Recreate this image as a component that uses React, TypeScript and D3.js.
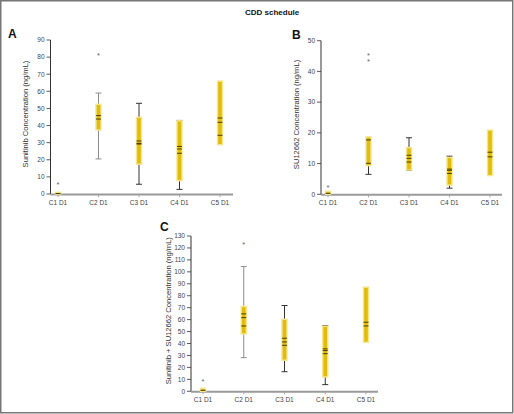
import React from "react";
import * as d3 from "d3";

const categories = ["C1 D1", "C2 D1", "C3 D1", "C4 D1", "C5 D1"];

// Panel A: Sunitinib
const boxLowA = [0, 37.4, 17.4, 7.8, 28.8];
const boxHighA = [1, 52.4, 44.8, 42.8, 66];
const whiskerLowA: (number | null)[] = [null, 20.5, 5.7, 2.7, null];
const whiskerHighA: (number | null)[] = [null, 59, 53, 43, null];
const linesA = [[0.3], [45.8, 43.8], [31, 29.6, 29.2], [27.8, 26.3, 23.8], [44.4, 41.9, 34.3]];
const outliersA = [[6], [81.2], [], [], []];
const ticksA = [0, 10, 20, 30, 40, 50, 60, 70, 80, 90];

// Panel B: SU12662
const boxLowB = [0, 9.3, 7.9, 3, 6.1];
const boxHighB = [1, 18.7, 15.2, 12, 20.9];
const whiskerLowB: (number | null)[] = [null, 6.5, 7.8, 2, null];
const whiskerHighB: (number | null)[] = [null, null, 18.4, 12.4, null];
const linesB = [[0.3], [17.7, 10.1], [12.7, 11.7, 10.5], [8.2, 7.8, 6.8], [13.7, 12.2]];
const outliersB = [[2.5], [45.4, 43.4], [], [], []];
const ticksB = [0, 10, 20, 30, 40, 50];

// Panel C: Sunitinib + SU12662
const boxLowC = [0, 48, 26, 12, 41];
const boxHighC = [2.5, 71, 60.3, 54.5, 87.2];
const whiskerLowC: (number | null)[] = [null, 28.2, 16.4, 5.6, null];
const whiskerHighC: (number | null)[] = [null, 104.4, 71.8, 55, null];
const linesC = [[0.8], [64.8, 61.7, 54.7], [44.4, 41.3, 38.5], [35.5, 34.1, 31.5], [57.8, 54.7]];
const outliersC = [[8.9], [123.7], [], [], []];
const ticksC = [0, 10, 20, 30, 40, 50, 60, 70, 80, 90, 100, 110, 120, 130];

const FONT = "'Liberation Sans', Arial, Helvetica, sans-serif";
const YELLOW = "#e2bc0a";
const HALO = "#f4e68a";
const DARK = "#333";
const GRAY = "#8c8c8c";

type PanelProps = {
  letter: string;
  letterX: number;
  letterY: number;
  yLabel: string;
  yLabelX: number;
  axisX: number;
  axisEnd: number;
  xFirst: number;
  xLast: number;
  yTopPx: number;
  yBottomPx: number;
  yMax: number;
  ticks: number[];
  boxLow: number[];
  boxHigh: number[];
  whiskerLow: (number | null)[];
  whiskerHigh: (number | null)[];
  lines: number[][];
  outliers: number[][];
  grayWhisker: boolean[];
};

function Panel(p: PanelProps) {
  const y = d3.scaleLinear().domain([0, p.yMax]).range([p.yBottomPx, p.yTopPx]);
  const x = d3.scalePoint<string>().domain(categories).range([p.xFirst, p.xLast]);
  const bw = 5;
  const cw = 6;
  return (
    <g>
      <text x={p.letterX} y={p.letterY} fontFamily={FONT} fontWeight="bold" fontSize={12} fill="#111">
        {p.letter}
      </text>
      <text
        transform={`translate(${p.yLabelX},${(p.yTopPx + p.yBottomPx) / 2 - 3}) rotate(-90)`}
        textAnchor="middle"
        fontFamily={FONT}
        fontSize={7.6}
        fill="#333"
      >
        {p.yLabel}
      </text>
      {/* y axis */}
      <line x1={p.axisX} x2={p.axisX} y1={y(p.yMax)} y2={p.yBottomPx} stroke={DARK} strokeWidth={1} />
      {p.ticks.map((t) => (
        <g key={t}>
          <line x1={p.axisX - 4} x2={p.axisX} y1={y(t)} y2={y(t)} stroke={DARK} strokeWidth={0.8} />
          <text
            x={p.axisX - 6}
            y={y(t) + 2.3}
            textAnchor="end"
            fontFamily={FONT}
            fontSize={6.5}
            fill="#444"
          >
            {t}
          </text>
        </g>
      ))}
      {/* x axis */}
      <line x1={p.axisX} x2={p.axisEnd} y1={p.yBottomPx + 0.5} y2={p.yBottomPx + 0.5} stroke="#9a9a9a" strokeWidth={2} />
      {categories.map((c) => (
        <g key={c}>
          <line x1={x(c)!} x2={x(c)!} y1={p.yBottomPx + 1.5} y2={p.yBottomPx + 3} stroke="#888" strokeWidth={0.8} />
          <text
            x={x(c)!}
            y={p.yBottomPx + 11}
            textAnchor="middle"
            fontFamily={FONT}
            fontSize={6.5}
            fill="#444"
          >
            {c}
          </text>
        </g>
      ))}
      {/* boxes */}
      {categories.map((c, i) => {
        const cx = x(c)!;
        const wc = p.grayWhisker[i] ? GRAY : DARK;
        const wl = p.whiskerLow[i];
        const wh = p.whiskerHigh[i];
        return (
          <g key={"b" + c}>
            {wh !== null && (
              <g>
                <line x1={cx} x2={cx} y1={y(wh)} y2={y(p.boxHigh[i])} stroke={wc} strokeWidth={1} />
                <line x1={cx - cw / 2} x2={cx + cw / 2} y1={y(wh)} y2={y(wh)} stroke={wc} strokeWidth={1} />
              </g>
            )}
            {wl !== null && (
              <g>
                <line x1={cx} x2={cx} y1={y(p.boxLow[i])} y2={y(wl)} stroke={wc} strokeWidth={1} />
                <line x1={cx - cw / 2} x2={cx + cw / 2} y1={y(wl)} y2={y(wl)} stroke={wc} strokeWidth={1} />
              </g>
            )}
            <rect
              x={cx - bw / 2}
              y={y(p.boxHigh[i])}
              width={bw}
              height={Math.max(1.5, y(p.boxLow[i]) - y(p.boxHigh[i]))}
              fill={YELLOW}
              stroke={HALO}
              strokeWidth={1.4}
            />
            {p.lines[i].map((v, k) => (
              <line key={k} x1={cx - bw / 2} x2={cx + bw / 2} y1={y(v)} y2={y(v)} stroke="#3a2e00" strokeWidth={0.9} />
            ))}
            {p.outliers[i].map((v, k) => (
              <text
                key={"o" + k}
                x={cx}
                y={y(v) + 3.4}
                textAnchor="middle"
                fontFamily={FONT}
                fontSize={7.5}
                fill="#666"
              >
                *
              </text>
            ))}
          </g>
        );
      })}
    </g>
  );
}

export default function App() {
  return (
    <svg
      width={514}
      height={414}
      style={{ position: "absolute", left: 0, top: 0, background: "#fff" }}
    >
      <rect x={0} y={0} width={514} height={414} fill="#fff" />
      <rect x={0.75} y={0.75} width={512} height={412} fill="none" stroke="#777" strokeWidth={1.5} />
      <text x={245} y={15} fontFamily={FONT} fontWeight="bold" fontSize={8} fill="#111">
        CDD schedule
      </text>
      <Panel
        letter="A"
        letterX={8}
        letterY={38}
        yLabel="Sunitinib Concentration (ng/mL)"
        yLabelX={28}
        axisX={50.5}
        axisEnd={233}
        xFirst={58}
        xLast={220}
        yTopPx={40}
        yBottomPx={194}
        yMax={90}
        ticks={ticksA}
        boxLow={boxLowA}
        boxHigh={boxHighA}
        whiskerLow={whiskerLowA}
        whiskerHigh={whiskerHighA}
        lines={linesA}
        outliers={outliersA}
        grayWhisker={[false, true, false, false, false]}
      />
      <Panel
        letter="B"
        letterX={292}
        letterY={39}
        yLabel="SU12662 Concentration (ng/mL)"
        yLabelX={299}
        axisX={321}
        axisEnd={502}
        xFirst={328}
        xLast={490}
        yTopPx={40.7}
        yBottomPx={194.3}
        yMax={50}
        ticks={ticksB}
        boxLow={boxLowB}
        boxHigh={boxHighB}
        whiskerLow={whiskerLowB}
        whiskerHigh={whiskerHighB}
        lines={linesB}
        outliers={outliersB}
        grayWhisker={[false, false, false, false, false]}
      />
      <Panel
        letter="C"
        letterX={160}
        letterY={231}
        yLabel="Sunitinib + SU12662 Concentration (ng/mL)"
        yLabelX={171}
        axisX={191}
        axisEnd={378}
        xFirst={203}
        xLast={366}
        yTopPx={236}
        yBottomPx={391.3}
        yMax={130}
        ticks={ticksC}
        boxLow={boxLowC}
        boxHigh={boxHighC}
        whiskerLow={whiskerLowC}
        whiskerHigh={whiskerHighC}
        lines={linesC}
        outliers={outliersC}
        grayWhisker={[false, true, false, false, false]}
      />
    </svg>
  );
}
